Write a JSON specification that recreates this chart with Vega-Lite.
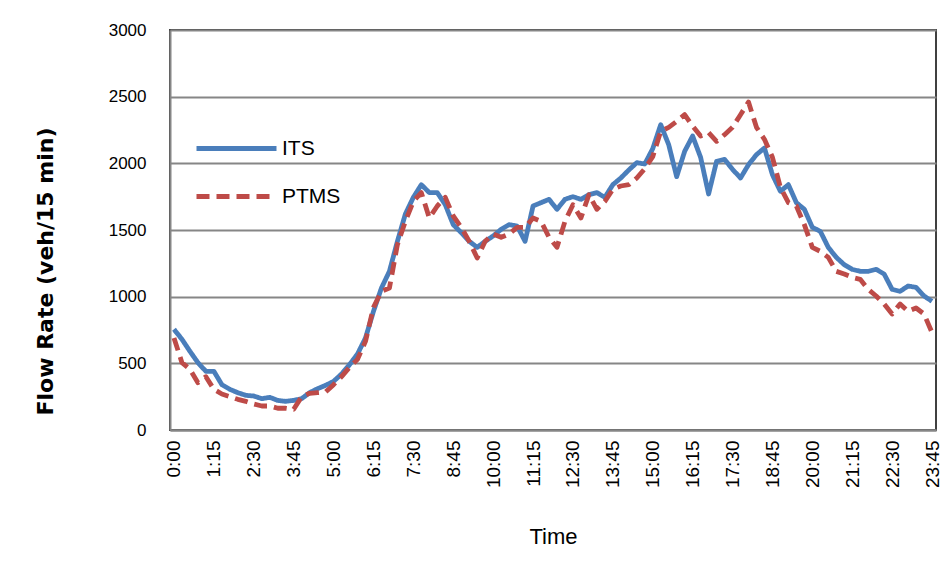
{
  "$schema": "https://vega.github.io/schema/vega-lite/v6.json",
  "width": 766,
  "height": 400,
  "autosize": {"type": "none"},
  "padding": {"left": 170, "top": 30, "right": 10, "bottom": 140},
  "background": "white",
  "config": {
    "view": {"stroke": "#404040", "strokeWidth": 2},
    "font": "Liberation Sans"
  },
  "data": {
    "values": [
      {"t":"0:00","ITS":755,"PTMS":690},{"t":"0:15","ITS":680,"PTMS":505},{"t":"0:30","ITS":590,"PTMS":455},{"t":"0:45","ITS":505,"PTMS":355},
      {"t":"1:00","ITS":440,"PTMS":400},{"t":"1:15","ITS":440,"PTMS":305},{"t":"1:30","ITS":340,"PTMS":270},{"t":"1:45","ITS":305,"PTMS":250},
      {"t":"2:00","ITS":280,"PTMS":230},{"t":"2:15","ITS":260,"PTMS":215},{"t":"2:30","ITS":255,"PTMS":195},{"t":"2:45","ITS":235,"PTMS":180},
      {"t":"3:00","ITS":245,"PTMS":180},{"t":"3:15","ITS":222,"PTMS":163},{"t":"3:30","ITS":215,"PTMS":163},{"t":"3:45","ITS":222,"PTMS":155},
      {"t":"4:00","ITS":235,"PTMS":250},{"t":"4:15","ITS":280,"PTMS":275},{"t":"4:30","ITS":310,"PTMS":280},{"t":"4:45","ITS":335,"PTMS":285},
      {"t":"5:00","ITS":365,"PTMS":340},{"t":"5:15","ITS":420,"PTMS":400},{"t":"5:30","ITS":490,"PTMS":470},{"t":"5:45","ITS":570,"PTMS":530},
      {"t":"6:00","ITS":690,"PTMS":665},{"t":"6:15","ITS":890,"PTMS":920},{"t":"6:30","ITS":1065,"PTMS":1040},{"t":"6:45","ITS":1190,"PTMS":1065},
      {"t":"7:00","ITS":1415,"PTMS":1390},{"t":"7:15","ITS":1620,"PTMS":1565},{"t":"7:30","ITS":1745,"PTMS":1715},{"t":"7:45","ITS":1840,"PTMS":1780},
      {"t":"8:00","ITS":1780,"PTMS":1590},{"t":"8:15","ITS":1780,"PTMS":1680},{"t":"8:30","ITS":1690,"PTMS":1745},{"t":"8:45","ITS":1540,"PTMS":1605},
      {"t":"9:00","ITS":1480,"PTMS":1520},{"t":"9:15","ITS":1415,"PTMS":1415},{"t":"9:30","ITS":1370,"PTMS":1290},{"t":"9:45","ITS":1415,"PTMS":1415},
      {"t":"10:00","ITS":1455,"PTMS":1470},{"t":"10:15","ITS":1505,"PTMS":1445},{"t":"10:30","ITS":1540,"PTMS":1470},{"t":"10:45","ITS":1530,"PTMS":1520},
      {"t":"11:00","ITS":1415,"PTMS":1520},{"t":"11:15","ITS":1680,"PTMS":1590},{"t":"11:30","ITS":1705,"PTMS":1565},{"t":"11:45","ITS":1730,"PTMS":1445},
      {"t":"12:00","ITS":1655,"PTMS":1370},{"t":"12:15","ITS":1730,"PTMS":1565},{"t":"12:30","ITS":1750,"PTMS":1690},{"t":"12:45","ITS":1730,"PTMS":1590},
      {"t":"13:00","ITS":1765,"PTMS":1765},{"t":"13:15","ITS":1780,"PTMS":1655},{"t":"13:30","ITS":1745,"PTMS":1715},{"t":"13:45","ITS":1840,"PTMS":1805},
      {"t":"14:00","ITS":1890,"PTMS":1830},{"t":"14:15","ITS":1950,"PTMS":1840},{"t":"14:30","ITS":2005,"PTMS":1890},{"t":"14:45","ITS":1995,"PTMS":1960},
      {"t":"15:00","ITS":2110,"PTMS":2050},{"t":"15:15","ITS":2290,"PTMS":2240},{"t":"15:30","ITS":2140,"PTMS":2270},{"t":"15:45","ITS":1900,"PTMS":2315},
      {"t":"16:00","ITS":2090,"PTMS":2365},{"t":"16:15","ITS":2205,"PTMS":2280},{"t":"16:30","ITS":2045,"PTMS":2205},{"t":"16:45","ITS":1770,"PTMS":2230},
      {"t":"17:00","ITS":2015,"PTMS":2165},{"t":"17:15","ITS":2030,"PTMS":2215},{"t":"17:30","ITS":1955,"PTMS":2270},{"t":"17:45","ITS":1890,"PTMS":2365},
      {"t":"18:00","ITS":1990,"PTMS":2460},{"t":"18:15","ITS":2065,"PTMS":2270},{"t":"18:30","ITS":2115,"PTMS":2180},{"t":"18:45","ITS":1915,"PTMS":2045},
      {"t":"19:00","ITS":1790,"PTMS":1820},{"t":"19:15","ITS":1840,"PTMS":1705},{"t":"19:30","ITS":1705,"PTMS":1680},{"t":"19:45","ITS":1655,"PTMS":1540},
      {"t":"20:00","ITS":1520,"PTMS":1370},{"t":"20:15","ITS":1490,"PTMS":1340},{"t":"20:30","ITS":1370,"PTMS":1295},{"t":"20:45","ITS":1295,"PTMS":1190},
      {"t":"21:00","ITS":1240,"PTMS":1170},{"t":"21:15","ITS":1205,"PTMS":1145},{"t":"21:30","ITS":1190,"PTMS":1130},{"t":"21:45","ITS":1190,"PTMS":1055},
      {"t":"22:00","ITS":1205,"PTMS":1005},{"t":"22:15","ITS":1170,"PTMS":945},{"t":"22:30","ITS":1055,"PTMS":870},{"t":"22:45","ITS":1040,"PTMS":945},
      {"t":"23:00","ITS":1080,"PTMS":890},{"t":"23:15","ITS":1070,"PTMS":915},{"t":"23:30","ITS":1005,"PTMS":870},{"t":"23:45","ITS":965,"PTMS":730}
    ]
  },
  "transform": [{"fold": ["ITS", "PTMS"], "as": ["series", "flow"]}],
  "mark": {"type": "line", "strokeWidth": 4.8, "strokeCap": "butt", "strokeJoin": "round"},
  "encoding": {
    "x": {
      "field": "t",
      "type": "ordinal",
      "sort": null,
      "scale": {"type": "point", "padding": 0.5},
      "axis": {
        "title": "Time",
        "titleFont": "Liberation Sans",
        "titleFontSize": 22,
        "titleFontWeight": "normal",
        "titleColor": "#000",
        "titlePadding": 39,
        "values": ["0:00","1:15","2:30","3:45","5:00","6:15","7:30","8:45","10:00","11:15","12:30","13:45","15:00","16:15","17:30","18:45","20:00","21:15","22:30","23:45"],
        "labelAngle": 270,
        "labelFont": "Liberation Sans",
        "labelFontSize": 19,
        "labelColor": "#000",
        "labelPadding": 10,
        "ticks": false,
        "grid": false,
        "domainColor": "#868686",
        "domainWidth": 2
      }
    },
    "y": {
      "field": "flow",
      "type": "quantitative",
      "scale": {"domain": [0, 3000]},
      "axis": {
        "title": "Flow Rate  (veh/15 min)",
        "titleFont": "DejaVu Sans",
        "titleFontSize": 22,
        "titleFontWeight": "bold",
        "titleColor": "#000",
        "titleAngle": 270,
        "titleAlign": "center",
        "titleBaseline": "middle",
        "titleX": -125,
        "titleY": 241,
        "values": [0, 500, 1000, 1500, 2000, 2500, 3000],
        "format": "d",
        "labelFont": "Liberation Sans",
        "labelFontSize": 17,
        "labelColor": "#000",
        "labelPadding": 24,
        "ticks": false,
        "grid": true,
        "gridColor": "#868686",
        "gridWidth": 2,
        "domainColor": "#868686",
        "domainWidth": 2
      }
    },
    "color": {
      "field": "series",
      "type": "nominal",
      "scale": {"domain": ["ITS", "PTMS"], "range": ["#4a7ebb", "#be4b48"]},
      "legend": {
        "title": null,
        "orient": "none",
        "legendX": 44,
        "legendY": 96,
        "symbolType": "M-2,0L2,0",
        "symbolSize": 1600,
        "symbolStrokeWidth": 5,
        "labelFont": "Liberation Sans",
        "labelFontSize": 21,
        "labelColor": "#000",
        "labelOffset": 23,
        "rowPadding": 15
      }
    },
    "strokeDash": {
      "field": "series",
      "type": "nominal",
      "scale": {"domain": ["ITS", "PTMS"], "range": [[1, 0], [13, 7]]},
      "legend": {
        "title": null,
        "orient": "none",
        "legendX": 44,
        "legendY": 96,
        "symbolType": "M-2,0L2,0",
        "symbolSize": 1600,
        "symbolStrokeWidth": 5,
        "labelFont": "Liberation Sans",
        "labelFontSize": 21,
        "labelColor": "#000",
        "labelOffset": 23,
        "rowPadding": 15
      }
    }
  }
}
